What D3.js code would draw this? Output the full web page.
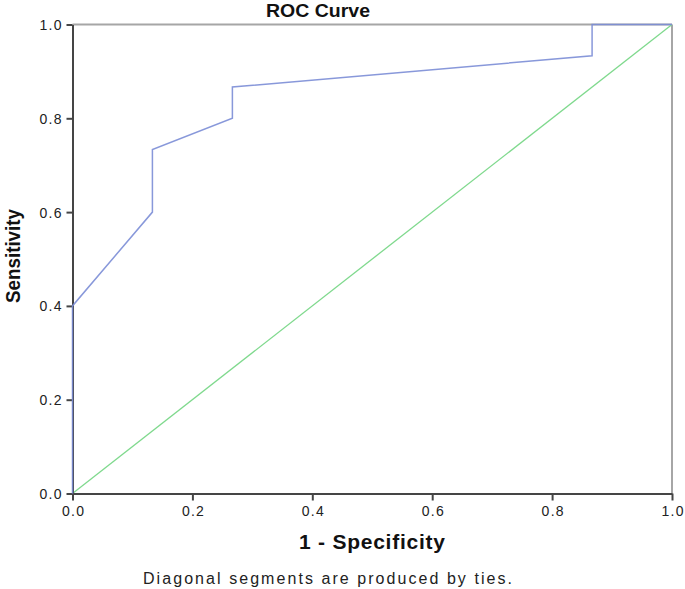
<!DOCTYPE html>
<html><head><meta charset="utf-8">
<script src="https://cdn.jsdelivr.net/npm/d3@7/dist/d3.min.js"></script>
<style>body{margin:0;background:#fff}svg{display:block}text{font-family:"Liberation Sans",Arial,sans-serif}</style>
</head><body><svg id="c" width="685" height="589"></svg>
<script>
const fpr = [0, 0, 0.1333, 0.1333, 0.2667, 0.2667, 0.8667, 0.8667, 1.0];
const tpr = [0, 0.4, 0.6, 0.7333, 0.8, 0.8667, 0.9333, 1.0, 1.0];
const refX = [0, 1];
const refY = [0, 1];
const xTicks = [0, 0.2, 0.4, 0.6, 0.8, 1.0];
const yTicks = [0, 0.2, 0.4, 0.6, 0.8, 1.0];

const svg = d3.select("#c");
const L = 72.5, R = 672, T = 24.5, B = 493.5;
const x = d3.scaleLinear().domain([0, 1]).range([L, R]);
const y = d3.scaleLinear().domain([0, 1]).range([B, T]);

// light frame (top, right)
svg.append("line").attr("x1", L).attr("x2", R).attr("y1", T).attr("y2", T).attr("stroke", "#a6a6a6").attr("stroke-width", 2);
svg.append("line").attr("x1", R).attr("x2", R).attr("y1", T).attr("y2", B).attr("stroke", "#a6a6a6").attr("stroke-width", 2);

// reference diagonal
const line = d3.line().x(d => x(d[0])).y(d => y(d[1]));
svg.append("path").datum(d3.zip(refX, refY)).attr("d", line).attr("fill", "none").attr("stroke", "#7fd98d").attr("stroke-width", 1.3);

// axes
const xAxis = d3.axisBottom(x).tickValues(xTicks).tickFormat(d3.format(".1f")).tickSize(7).tickSizeOuter(0);
const yAxis = d3.axisLeft(y).tickValues(yTicks).tickFormat(d3.format(".1f")).tickSize(6).tickSizeOuter(0);
const gx = svg.append("g").attr("transform", `translate(0,${B})`).call(xAxis);
const gy = svg.append("g").attr("transform", `translate(${L},0)`).call(yAxis);
[gx, gy].forEach(g => {
  g.select(".domain").attr("stroke", "#454545").attr("stroke-width", 2);
  g.selectAll(".tick line").attr("stroke", "#454545").attr("stroke-width", 2);
  g.selectAll(".tick text").attr("fill", "#222").style("font-size", "14px")
    .attr("textLength", 22).attr("lengthAdjust", "spacing");
});
gx.selectAll(".tick text").attr("dy", "0").attr("y", 22);
gy.selectAll(".tick text").attr("x", -11).attr("dy", "0.36em");

// ROC curve
svg.append("path").datum(d3.zip(fpr, tpr)).attr("d", line).attr("fill", "none")
  .attr("stroke", "#7b8dd6").attr("stroke-width", 1.5).attr("stroke-opacity", 0.9);

// texts
svg.append("text").attr("x", 266).attr("y", 17).text("ROC Curve")
  .style("font-size", "18px").style("font-weight", "bold").attr("fill", "#111")
  .attr("textLength", 104).attr("lengthAdjust", "spacingAndGlyphs");
svg.append("text").attr("x", 299).attr("y", 549).text("1 - Specificity")
  .style("font-size", "21px").style("font-weight", "bold").attr("fill", "#111")
  .attr("textLength", 146).attr("lengthAdjust", "spacing");
svg.append("text").attr("transform", "translate(20,303) rotate(-90)").text("Sensitivity")
  .style("font-size", "20px").style("font-weight", "bold").attr("fill", "#111")
  .attr("textLength", 94).attr("lengthAdjust", "spacingAndGlyphs");
svg.append("text").attr("x", 143).attr("y", 584).text("Diagonal segments are produced by ties.")
  .style("font-size", "16px").attr("fill", "#222")
  .attr("textLength", 369).attr("lengthAdjust", "spacing");
</script></body></html>
